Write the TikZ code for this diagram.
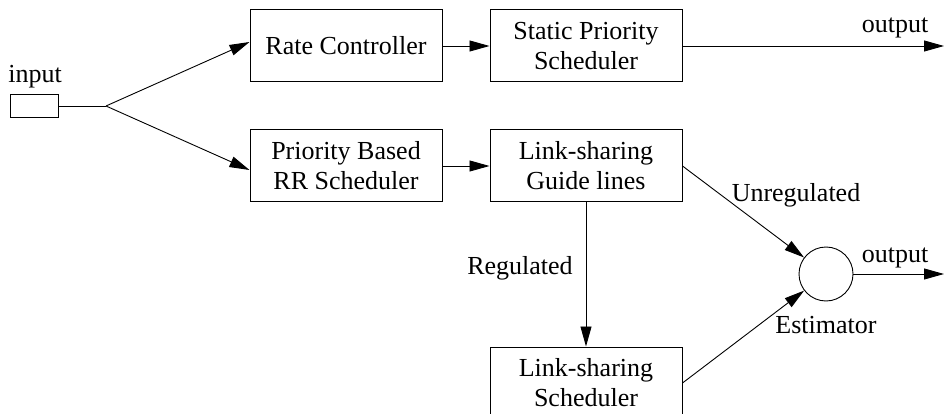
\documentclass[tikz,border=0pt]{standalone}
\usepackage{fontspec}
\setmainfont{Liberation Serif}
\usetikzlibrary{arrows.meta}
\newcommand{\diagfont}{\fontsize{26}{30}\selectfont}
\tikzset{
  blk/.style={draw, line width=1pt, minimum width=192pt, minimum height=72pt,
              inner sep=0pt, align=center, font=\diagfont},
  conn/.style={line width=0.9pt, -{Triangle[length=20pt,width=11pt]}},
  plain/.style={line width=0.9pt},
  lbl/.style={font=\diagfont, inner sep=0pt, anchor=base}
}
\begin{document}
\begin{tikzpicture}[x=1pt, y=-1pt]
  \useasboundingbox (0,0) rectangle (945,414);
  \clip (0,0) rectangle (945,414);

  % input stub and branch point
  \node[draw, line width=0.9pt, minimum width=48pt, minimum height=23pt, inner sep=0pt] (in) at (34,106) {};
  \node[lbl] (inlbl) at (35,83) {input};
  \coordinate (j) at (106,106);

  % processing blocks
  \node[blk] (rc) at (346,46) {Rate Controller};
  \node[blk] (sp) at (586,46) {Static Priority\\Scheduler};
  \node[blk] (pb) at (346,166) {Priority Based\\RR Scheduler};
  \node[blk] (lg) at (586,166) {Link-sharing\\Guide lines};
  \node[blk] (ls) at (586,383) {Link-sharing\\Scheduler};

  % estimator
  \node[draw, circle, line width=0.9pt, minimum size=54pt, inner sep=0pt] (est) at (826,274) {};

  % free ends of the outputs
  \coordinate (o1) at (944,46);
  \coordinate (o2) at (944,274);

  % connectors
  \draw[plain] (in.east) -- (j);
  \draw[conn] (j) -- ([yshift=4pt]rc.west);
  \draw[conn] (j) -- ([yshift=-4pt]pb.west);
  \draw[conn] (rc.east) -- (sp.west);
  \draw[conn] (pb.east) -- (lg.west);
  \draw[conn] (sp.east) -- (o1);
  \draw[conn] (lg.south) -- (ls.north);
  \draw[conn] (lg.east) -- (est);
  \draw[conn] (ls.east) -- (est);
  \draw[conn] (est.east) -- (o2);

  % labels
  \node[lbl] (out1) at (895,33) {output};
  \node[lbl] (out2) at (895,262) {output};
  \node[lbl] (unreg) at (796,202) {Unregulated};
  \node[lbl] (reg) at (520,274) {Regulated};
  \node[lbl] (estl) at (826,333) {Estimator};
\end{tikzpicture}
\end{document}
